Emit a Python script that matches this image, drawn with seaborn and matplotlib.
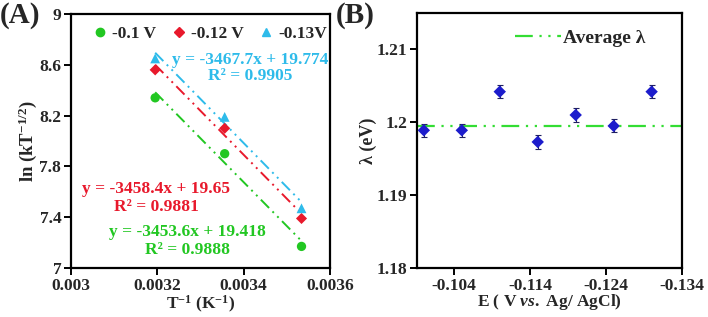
import numpy as np
import pandas as pd
import seaborn as sns
import matplotlib.pyplot as plt
from matplotlib.ticker import FuncFormatter
from matplotlib.lines import Line2D

# Panel A data: ln(kT^-1/2) vs 1/T for three potentials
inv_T = [0.003195, 0.003356, 0.003534]
ln_k_01 = [8.34, 7.90, 7.17]
ln_k_012 = [8.56, 8.10, 7.39]
ln_k_013 = [8.65, 8.19, 7.47]
series_labels = ['-0.1 V', '-0.12 V', '-0.13V']
fit_slopes = [-3453.6, -3458.4, -3467.7]
fit_intercepts = [19.418, 19.65, 19.774]
fit_r2 = [0.9888, 0.9881, 0.9905]

# Panel B data: reorganisation energy vs potential
E_pot = [-0.100, -0.105, -0.110, -0.115, -0.120, -0.125, -0.130]
lam = [1.1989, 1.1989, 1.2042, 1.1973, 1.2010, 1.1995, 1.2042]
lam_err = [0.0009, 0.0009, 0.0009, 0.0009, 0.0009, 0.0009, 0.0009]
avg_lambda = 1.1995

sns.set_theme(style="white")
plt.rcParams['font.family'] = ['Liberation Serif', 'DejaVu Serif']
plt.rcParams['font.weight'] = 'bold'
plt.rcParams['axes.labelweight'] = 'bold'
plt.rcParams['axes.unicode_minus'] = False
plt.rcParams['mathtext.fontset'] = 'custom'
plt.rcParams['mathtext.rm'] = 'Liberation Serif:bold'
plt.rcParams['mathtext.bf'] = 'Liberation Serif:bold'
plt.rcParams['mathtext.it'] = 'Liberation Serif:bold:italic'
plt.rcParams['mathtext.default'] = 'rm'

colors = ['#22c722', '#e8192c', '#2ebbea']
markers = ['o', 'D', '^']
msizes = [45, 32, 50]

df = pd.DataFrame({
    'invT': inv_T * 3,
    'lnk': ln_k_01 + ln_k_012 + ln_k_013,
    'series': [s for s in series_labels for _ in inv_T],
})

fig = plt.figure(figsize=(7.08, 3.17), dpi=100)
axA = fig.add_axes([71 / 708, 49 / 317, 259 / 708, 254 / 317])
axB = fig.add_axes([417 / 708, 49 / 317, 265 / 708, 255 / 317])

fmt = FuncFormatter(lambda v, p: f"{v:g}")

# ---- Panel A ----
for i, lab in enumerate(series_labels):
    sub = df[df['series'] == lab]
    sns.scatterplot(data=sub, x='invT', y='lnk', ax=axA, color=colors[i],
                    marker=markers[i], s=msizes[i], edgecolor='none', zorder=3)
    xs = np.array([sub['invT'].min(), sub['invT'].max()])
    axA.plot(xs, fit_slopes[i] * xs + fit_intercepts[i], color=colors[i],
             lw=1.4, ls=(0, (6, 2.5, 1, 2.5, 1, 2.5)), zorder=2)

axA.set_xlim(0.003, 0.0036)
axA.set_ylim(7, 9)
axA.set_xticks([0.003, 0.0032, 0.0034, 0.0036])
axA.set_yticks([7, 7.4, 7.8, 8.2, 8.6, 9])
axA.xaxis.set_major_formatter(fmt)
axA.yaxis.set_major_formatter(fmt)
axA.set_xlabel('T$^{-1}$ (K$^{-1}$)', fontsize=12.5, labelpad=0)
axA.set_ylabel('ln (kT$^{-1/2}$)', fontsize=13.5, labelpad=0)

eq_pos = [(0.45, 0.14, 0.07), (0.33, 0.31, 0.24), (0.69, 0.82, 0.755)]
for i in range(3):
    x0, y1, y2 = eq_pos[i]
    sign = '+' if fit_intercepts[i] >= 0 else '-'
    axA.text(x0, y1, f"y = {fit_slopes[i]:g}x {sign} {abs(fit_intercepts[i]):g}",
             transform=axA.transAxes, color=colors[i], fontsize=12.5,
             fontweight='bold', ha='center', va='center')
    axA.text(x0, y2, f"R² = {fit_r2[i]:g}", transform=axA.transAxes,
             color=colors[i], fontsize=12.5, fontweight='bold',
             ha='center', va='center')

handles = [Line2D([], [], ls='none', marker=markers[i], color=colors[i],
                  markersize=[6, 5, 6][i], label=series_labels[i]) for i in range(3)]
axA.legend(handles=handles, loc='center', bbox_to_anchor=(0.53, 0.92),
           ncol=3, frameon=False, fontsize=12.5, handletextpad=0.1,
           columnspacing=0.7, handlelength=1.2)

# ---- Panel B ----
axB.axhline(avg_lambda, color='#33dd33', lw=1.6,
            ls=(0, (8, 3, 1, 3, 1, 3)), zorder=1, label='Average λ')
axB.errorbar(E_pot, lam, yerr=lam_err, fmt='none', ecolor='#202060',
             elinewidth=0.8, capsize=2.5, capthick=0.8, zorder=2)
sns.scatterplot(x=E_pot, y=lam, ax=axB, marker='D', s=40, color='#1c1ccc',
                edgecolor='none', zorder=3)
axB.set_xlim(-0.0991, -0.134)
axB.set_ylim(1.18, 1.215)
axB.set_xticks([-0.104, -0.114, -0.124, -0.134])
axB.set_yticks([1.18, 1.19, 1.2, 1.21])
axB.xaxis.set_major_formatter(fmt)
axB.yaxis.set_major_formatter(fmt)
axB.set_xlabel('E ( V $\\mathit{vs.}$ Ag/ AgCl)', fontsize=12.5, labelpad=-1)
axB.set_ylabel('λ (eV)', fontsize=13, labelpad=0)
axB.legend(loc='center right', bbox_to_anchor=(0.9, 0.9), frameon=False,
           fontsize=14, handlelength=2.4, handletextpad=0.1, borderpad=0)

for ax in (axA, axB):
    for sp in ax.spines.values():
        sp.set_visible(True)
        sp.set_color('black')
        sp.set_linewidth(1.6)
    ax.tick_params(axis='both', which='major', direction='out', length=5,
                   width=1.4, color='black', labelsize=12.5, pad=2,
                   bottom=True, left=True)
    ax.set_facecolor('white')

fig.text(0.0, 0.995, '(A)', fontsize=21, fontweight='bold', ha='left', va='top')
fig.text(0.474, 0.995, '(B)', fontsize=21, fontweight='bold', ha='left', va='top')

fig.savefig('out.png', dpi=100, facecolor='white')
